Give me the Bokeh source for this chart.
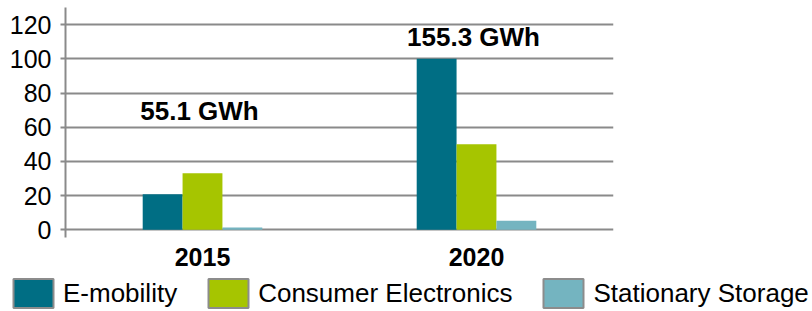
from bokeh.plotting import figure
from bokeh.layouts import column
from bokeh.models import ColumnDataSource, Range1d, FixedTicker, Legend, LegendItem
from bokeh.transform import dodge
from bokeh.core.properties import value
from bokeh.embed import file_html
from bokeh.resources import INLINE

# ---- data ----
years = ["2015", "2020"]
series_names = ["E-mobility", "Consumer Electronics", "Stationary Storage"]
e_mobility = [20.8, 100.0]
consumer_electronics = [33.0, 50.0]
stationary_storage = [1.3, 5.3]
y_ticks = [0, 20, 40, 60, 80, 100, 120]

# ---- styles / positions ----
colors = ["#006E84", "#A6C500", "#74B4C0"]
total_label_y = [69.5, 112.5]
FONT = "Liberation Sans"
GRID = "#8a8a8a"
BAR_W = 0.1455

totals = [a + b + c for a, b, c in zip(e_mobility, consumer_electronics, stationary_storage)]
total_labels = [f"{t:.1f} GWh" for t in totals]

src = ColumnDataSource(dict(
    year=years,
    e=e_mobility,
    c=consumer_electronics,
    s=stationary_storage,
    label_y=total_label_y,
    label=total_labels,
))

p = figure(x_range=years, y_range=Range1d(-4.5, 130.0),
           width=812, height=274, output_backend="svg", toolbar_location=None,
           min_border_left=65, min_border_right=199, min_border_top=7, min_border_bottom=37)
p.outline_line_color = None
p.frame_align = False

fields = ["e", "c", "s"]
offsets = [-BAR_W, 0.0, BAR_W]
for f, off, col in zip(fields, offsets, colors):
    p.vbar(x=dodge("year", off, range=p.x_range), top=f, bottom=0, width=BAR_W,
           source=src, fill_color=col, line_color=None)

p.text(x=dodge("year", 0.0, range=p.x_range), y="label_y", text="label", source=src,
       x_offset=-3, text_align="center", text_baseline="alphabetic",
       text_font=value(FONT), text_font_style="bold", text_font_size="26px", text_color="black")

# grids
p.xgrid.visible = False
p.ygrid.ticker = FixedTicker(ticks=y_ticks)
p.ygrid.grid_line_color = GRID
p.ygrid.grid_line_width = 2

# y axis
p.yaxis.ticker = FixedTicker(ticks=y_ticks)
p.yaxis.axis_line_color = GRID
p.yaxis.axis_line_width = 2
p.yaxis.major_tick_line_color = GRID
p.yaxis.major_tick_line_width = 2
p.yaxis.major_tick_out = 5
p.yaxis.major_tick_in = 0
p.yaxis.minor_tick_line_color = None
p.yaxis.major_label_text_font = FONT
p.yaxis.major_label_text_font_size = "25px"
p.yaxis.major_label_text_color = "black"
p.yaxis.major_label_standoff = 9

# x axis
p.xaxis.axis_line_color = None
p.xaxis.major_tick_line_color = None
p.xaxis.minor_tick_line_color = None
p.xaxis.major_label_text_font = FONT
p.xaxis.major_label_text_font_style = "bold"
p.xaxis.major_label_text_font_size = "25px"
p.xaxis.major_label_text_color = "black"
p.xaxis.major_label_standoff = 4

# ---- legend strip (separate figure so it can span the full width) ----
lg = figure(x_range=years, y_range=Range1d(0, 1), width=812, height=37,
            output_backend="svg", toolbar_location=None,
            min_border_left=0, min_border_right=0, min_border_top=0, min_border_bottom=0)
lg.axis.visible = False
lg.grid.visible = False
lg.outline_line_color = None
lg.frame_align = False

items = []
for name, f, off, col in zip(series_names, fields, offsets, colors):
    r = lg.vbar(x=dodge("year", off, range=lg.x_range), top=f, bottom=0, width=BAR_W,
                source=src, fill_color=col, line_color="#8c8c8c", line_width=2, visible=False)
    items.append(LegendItem(label=name, renderers=[r]))

legend = Legend(items=items, orientation="horizontal", location=(8, 0),
                padding=0, margin=0, spacing=26, glyph_width=50, glyph_height=36,
                label_standoff=5, label_text_font=FONT, label_text_font_size="26px",
                label_text_color="black", border_line_color=None, background_fill_alpha=0)
lg.add_layout(legend)

layout = column(p, lg, spacing=0)
open("out.html", "w").write(file_html(layout, INLINE))
